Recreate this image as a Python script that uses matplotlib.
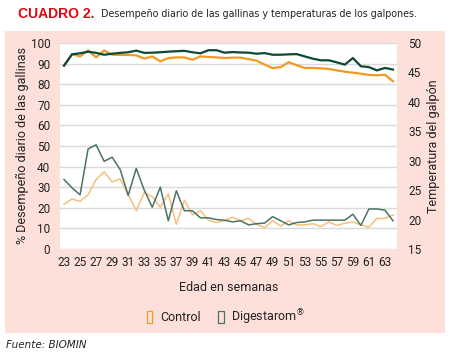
import matplotlib
matplotlib.use("Agg")
import matplotlib.pyplot as plt
import matplotlib.patches as mpatches
from matplotlib import font_manager as fm

# ---------------- data ----------------
weeks = list(range(23, 65))
tick_weeks = list(range(23, 64, 2))

control_perf = [89.0, 94.6, 93.5, 96.4, 93.0, 96.4, 94.3, 94.2, 94.2, 94.0,
                92.4, 93.5, 91.1, 92.7, 93.0, 93.0, 91.9, 93.5, 93.2, 93.0,
                92.7, 92.9, 92.9, 92.2, 91.4, 89.5, 87.8, 88.3, 90.7, 89.2,
                87.9, 87.9, 87.7, 87.4, 86.7, 86.1, 85.6, 85.1, 84.5, 84.3,
                84.6, 81.4]
digest_perf = [89.0, 94.5, 95.0, 95.8, 95.2, 94.3, 94.8, 95.2, 95.5, 96.3,
               95.2, 95.3, 95.5, 95.8, 96.0, 96.2, 95.5, 95.0, 96.5, 96.5,
               95.3, 95.6, 95.4, 95.3, 94.8, 95.1, 94.3, 94.3, 94.5, 94.6,
               93.5, 92.4, 91.6, 91.6, 90.6, 89.5, 92.7, 88.7, 88.3, 86.7,
               87.9, 87.1]
control_temp = [22.6, 23.5, 23.1, 24.2, 26.8, 28.1, 26.4, 26.9, 24.2, 21.5,
                24.6, 23.9, 22.1, 24.4, 19.2, 23.3, 20.8, 21.5, 19.9, 19.5,
                19.8, 20.4, 19.8, 20.2, 19.2, 18.6, 19.8, 18.9, 19.8, 19.1,
                19.1, 19.3, 18.8, 19.6, 19.0, 19.4, 19.6, 19.1, 18.7, 20.2,
                20.2, 20.8]
digest_temp = [26.8, 25.4, 24.2, 32.0, 32.7, 29.9, 30.6, 28.5, 24.1, 28.7,
               25.0, 22.1, 25.5, 19.8, 24.9, 21.5, 21.5, 20.3, 20.3, 20.0,
               19.9, 19.6, 19.8, 19.1, 19.3, 19.4, 20.5, 19.8, 19.1, 19.5,
               19.6, 19.9, 19.9, 19.9, 19.9, 19.9, 20.9, 19.0, 21.8, 21.8,
               21.6, 19.8]
series_labels = ["Control", "Digestarom$^{\u00ae}$"]

# ---------------- fonts ----------------
narrow = None
for f in fm.fontManager.ttflist:
    n = f.name.lower()
    st = str(f.stretch).lower()
    if ("narrow" in n or "condensed" in n or st in ("condensed", "semi-condensed", "extra-condensed")) \
            and f.style == "normal" and f.weight in (400, "normal", "regular"):
        narrow = (f.name, f.stretch)
        break

MAIN = "Roboto"
plt.rcParams["font.family"] = [MAIN, "DejaVu Sans"]

# ---------------- colours ----------------
PANEL = "#fde0da"
C_ORANGE = "#f39a1e"
C_ORANGE_L = "#f7bf7c"
C_GREEN = "#0c4a33"
C_GREEN_L = "#4d7364"
GRID = "#d9d9d9"

W, H = 450, 355
fig = plt.figure(figsize=(W / 100, H / 100), dpi=100)
fig.patch.set_facecolor("white")

panel = mpatches.Rectangle((5 / W, 1 - 333 / H), 440 / W, 302 / H,
                           transform=fig.transFigure, facecolor=PANEL,
                           edgecolor="none", zorder=-10)
fig.patches.append(panel)

ax = fig.add_axes([60 / W, 1 - 249 / H, 337 / W, 206 / H])
ax.set_facecolor("white")
ax2 = ax.twinx()

ax.set_xlim(22.5, 64.5)
ax.set_ylim(0, 100)
ax2.set_ylim(15, 50)
ax.set_yticks(range(0, 101, 10))
ax2.set_yticks(range(15, 51, 5))
ax.set_xticks(tick_weeks)
ax.set_xticklabels([str(w) for w in tick_weeks])

for a in (ax, ax2):
    for s in a.spines.values():
        s.set_visible(False)
    a.tick_params(length=0, labelsize=8.5, colors="#222222")
ax.tick_params(axis="y", pad=7)
ax2.tick_params(axis="y", pad=8)
ax.tick_params(axis="x", pad=5)

ax.grid(axis="y", color=GRID, linewidth=1.0)
ax.set_axisbelow(True)

ax.plot(weeks, control_perf, color=C_ORANGE, lw=1.6, zorder=3)
ax.plot(weeks, digest_perf, color=C_GREEN, lw=1.6, zorder=4)
ax2.plot(weeks, control_temp, color=C_ORANGE_L, lw=1.1, zorder=3)
ax2.plot(weeks, digest_temp, color=C_GREEN_L, lw=1.1, zorder=4)

ax.set_ylabel("% Desempe\u00f1o diario de las gallinas", fontsize=9, color="#222222", labelpad=1)
ax2.set_ylabel("Temperatura del galp\u00f3n", fontsize=9, color="#222222", labelpad=4)
ax.set_xlabel("Edad en semanas", fontsize=9, color="#222222", labelpad=9)

handles = [mpatches.Rectangle((0, 0), 1, 1, facecolor="none", edgecolor=C_ORANGE, lw=0.9),
           mpatches.Rectangle((0, 0), 1, 1, facecolor="none", edgecolor=C_GREEN_L, lw=0.9)]
fig.legend(handles, series_labels, loc="center", bbox_to_anchor=(226 / W, 1 - 317 / H),
           ncol=2, frameon=False, fontsize=9, handlelength=0.45, handleheight=1.1,
           handletextpad=0.6, columnspacing=1.4, labelcolor="#222222")

if narrow:
    tfam, tstretch = narrow[0], narrow[1]
else:
    tfam, tstretch = MAIN, "normal"
fig.text(18 / W, 1 - 14 / H, "CUADRO 2.", fontsize=10, fontweight="bold",
         color="#e30613", family=["Liberation Sans", "DejaVu Sans"], va="center", ha="left")
fig.text(101 / W, 1 - 14 / H, "Desempe\u00f1o diario de las gallinas y temperaturas de los galpones.",
         fontsize=7.7, color="#222222", family=[tfam, "DejaVu Sans"], stretch=tstretch,
         va="center", ha="left")

fig.text(6 / W, 1 - 345 / H, "Fuente: BIOMIN", fontsize=7.5, style="italic",
         color="#222222", family=[tfam, "DejaVu Sans"], va="center", ha="left")

fig.savefig("out.png", dpi=100, facecolor="white")
